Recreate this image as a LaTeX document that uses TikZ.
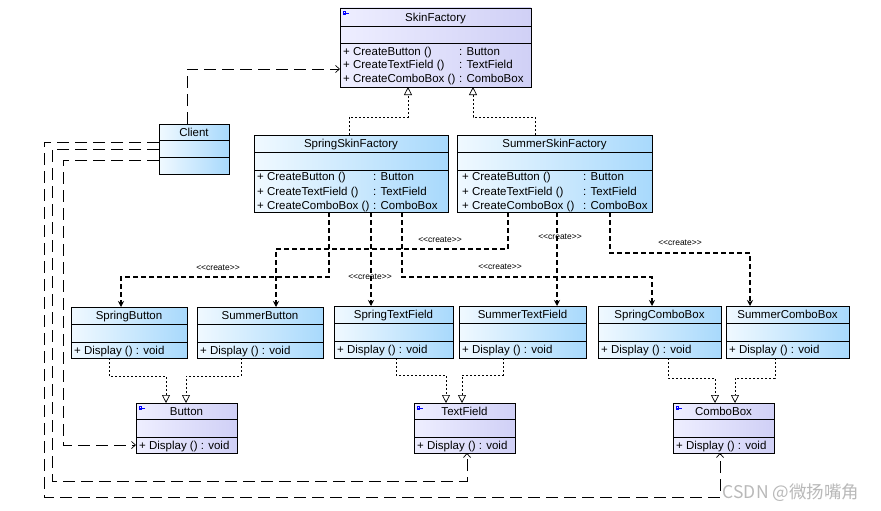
\documentclass[tikz,border=0pt]{standalone}
\usepackage{fontspec}
\setmainfont{Liberation Sans}
\newfontfamily\cjkwm{Noto Sans CJK SC}
\usetikzlibrary{arrows.meta,calc}
\definecolor{absA}{HTML}{EEEEFF}
\definecolor{absB}{HTML}{D0D0F6}
\definecolor{conA}{HTML}{F0F9FF}
\definecolor{conB}{HTML}{A8D9FC}
\tikzset{
  abscls/.style={left color=absA, right color=absB},
  concls/.style={left color=conA, right color=conB},
  ttl/.style={font=\fontsize{11.5}{13}\selectfont, inner sep=0pt, anchor=base},
  meth/.style={font=\fontsize{11.5}{13}\selectfont, inner sep=0pt, anchor=base west},
  lbl/.style={font=\fontsize{8.5}{10}\selectfont, inner sep=0pt},
  genline/.style={line width=0.7pt, dash pattern=on 2pt off 2pt, -{Triangle[open,length=8pt,width=8pt]}},
  createline/.style={line width=1.6pt, dash pattern=on 5pt off 3pt, -{Stealth[length=6pt,width=6pt]}},
  depline/.style={line width=0.7pt, dash pattern=on 12pt off 6pt, -{Straight Barb[length=4pt,width=7pt]}},
}
% #1 name #2 x1 #3 y1 #4 x2 #5 y2 #6 header line #7 second line #8 style #9 title
\newcommand{\klass}[9]{%
  \shade[#8] (#2,#3) rectangle (#4,#6);
  \shade[#8] (#2,#6) rectangle (#4,#7);
  \shade[#8] (#2,#7) rectangle (#4,#5);
  \draw[line width=0.7pt] (#2,#6) -- (#4,#6) (#2,#7) -- (#4,#7);
  \node[draw, line width=0.8pt, inner sep=0pt, outer sep=0pt, anchor=north west,
        minimum width=#4pt-#2pt, minimum height=#5pt-#3pt] (#1) at (#2,#3) {};
  \node[ttl] (#1-t) at ({(#2+#4)/2},{(#3+#6)/2+4.2}) {#9};
}
\newcommand{\absicon}[2]{%
  \draw[blue, line width=0.6pt] ({#1+3},{#2+5}) -- ({#1+9},{#2+5});
  \draw[blue, line width=0.6pt] ({#1+3},{#2+3.5}) rectangle ({#1+5},{#2+6.5});
}
% methods: baseline = given y + 4.2
\newcommand{\frow}[6]{%
  \node[meth] (#1a) at (#2,{#4+4.2}) {#5};
  \node[meth] (#1b) at (#3,{#4+4.2}) {#6};
}
\newcommand{\disp}[3]{\node[meth] (#1) at (#2,{#3+4.2}) {+ Display () : void};}
\newcommand{\crt}{<\kern0pt<create>\kern0pt>}
\begin{document}
\begin{tikzpicture}[x=1pt,y=-1pt]
\useasboundingbox (0,0) rectangle (881,511);
\fill[white] (0,0) rectangle (881,511);

% factories
\klass{sf}{340}{8}{531}{87}{26}{43}{abscls}{SkinFactory}
\absicon{340}{8}
\frow{sf1}{343}{459}{51}{+ CreateButton ()}{: Button}
\frow{sf2}{343}{459}{64.5}{+ CreateTextField ()}{: TextField}
\frow{sf3}{343}{459}{78.5}{+ CreateComboBox ()}{: ComboBox}

\klass{ssf}{254}{135}{448}{212}{152}{170}{concls}{SpringSkinFactory}
\frow{ssf1}{257}{373}{176}{+ CreateButton ()}{: Button}
\frow{ssf2}{257}{373}{191}{+ CreateTextField ()}{: TextField}
\frow{ssf3}{257}{373}{205}{+ CreateComboBox ()}{: ComboBox}

\klass{usf}{457}{135}{652}{212}{152}{170}{concls}{SummerSkinFactory}
\frow{usf1}{462}{583}{176}{+ CreateButton ()}{: Button}
\frow{usf2}{462}{583}{191}{+ CreateTextField ()}{: TextField}
\frow{usf3}{462}{583}{205}{+ CreateComboBox ()}{: ComboBox}

\klass{cl}{159}{124}{229}{174}{140}{157}{concls}{Client}

% concrete products
\klass{sb}{71}{307}{187}{358}{324}{342}{concls}{SpringButton}
\disp{sb-m}{74}{350}
\klass{ub}{197}{307}{323}{358}{324}{342}{concls}{SummerButton}
\disp{ub-m}{200}{350}
\klass{st}{334}{306}{453}{358}{323}{341}{concls}{SpringTextField}
\disp{st-m}{337}{349}
\klass{ut}{459}{306}{586}{358}{323}{341}{concls}{SummerTextField}
\disp{ut-m}{462}{349}
\klass{sc}{598}{306}{721}{358}{323}{341}{concls}{SpringComboBox}
\disp{sc-m}{601}{349}
\klass{uc}{726}{306}{849}{358}{323}{341}{concls}{SummerComboBox}
\disp{uc-m}{729}{349}

% abstract products
\klass{bt}{136}{403}{237}{453}{419}{437}{abscls}{Button}
\absicon{136}{403}
\disp{bt-m}{139}{445}
\klass{tf}{414}{403}{515}{453}{419}{437}{abscls}{TextField}
\absicon{414}{403}
\disp{tf-m}{417}{445}
\klass{cb}{673}{403}{774}{453}{419}{437}{abscls}{ComboBox}
\absicon{673}{403}
\disp{cb-m}{676}{445}

% realization of SkinFactory
\draw[genline] ($(ssf.north west)+(95,0)$) -- ++(0,-18) -| ($(sf.south west)+(68,0)$);
\draw[genline] ($(usf.north west)+(78,0)$) -- ++(0,-18) -| ($(sf.south west)+(133,0)$);

% generalizations of products
\draw[genline] ($(sb.south west)+(38,0)$) -- ++(0,18) -| ($(bt.north west)+(30,0)$);
\draw[genline] ($(ub.south west)+(44,0)$) -- ++(0,18) -| ($(bt.north west)+(50,0)$);
\draw[genline] ($(st.south west)+(62,0)$) -- ++(0,17) -| ($(tf.north west)+(32,0)$);
\draw[genline] ($(ut.south west)+(44,0)$) -- ++(0,17) -| ($(tf.north west)+(48,0)$);
\draw[genline] ($(sc.south west)+(70,0)$) -- ++(0,20) -| ($(cb.north west)+(42,0)$);
\draw[genline] ($(uc.south west)+(49,0)$) -- ++(0,20) -| ($(cb.north west)+(62,0)$);

% client dependencies
\draw[depline] ($(cl.north west)+(28,0)$) |- ($(sf.north west)+(0,61)$);
\draw[depline] ($(cl.north west)+(0,18)$) -- ++(-115,0) -- ++(0,355) -| ($(cb.south west)+(47,0)$);
\draw[depline] ($(cl.north west)+(0,25)$) -- ++(-107,0) -- ++(0,332) -| ($(tf.south west)+(53,0)$);
\draw[depline] ($(cl.north west)+(0,36)$) -- ++(-96,0) |- ($(bt.north west)+(0,42)$);

% create
\draw[createline] ($(ssf.south west)+(75,0)$) -- ++(0,65) -| ($(sb.north west)+(50,0)$);
\draw[createline] ($(usf.south west)+(51,0)$) -- ++(0,37) -| ($(ub.north west)+(79,0)$);
\draw[createline] ($(ssf.south west)+(117,0)$) -- ($(st.north west)+(37,0)$);
\draw[createline] ($(usf.south west)+(100,0)$) -- ($(ut.north west)+(98,0)$);
\draw[createline] ($(ssf.south west)+(148,0)$) -- ++(0,65) -| ($(sc.north west)+(54,0)$);
\draw[createline] ($(usf.south west)+(153,0)$) -- ++(0,41) -| ($(uc.north west)+(24,0)$);

\node[lbl] (c1) at (218,268) {\crt};
\node[lbl] (c2) at (440,240) {\crt};
\node[lbl] (c3) at (370,277) {\crt};
\node[lbl] (c4) at (560,237) {\crt};
\node[lbl] (c5) at (500,267) {\crt};
\node[lbl] (c6) at (680,243) {\crt};

\node[font=\cjkwm\fontsize{17.5}{18}\selectfont, text=gray!55, inner sep=0pt] (wm) at (791,493) {CSDN @微扬嘴角};
\end{tikzpicture}
\end{document}
